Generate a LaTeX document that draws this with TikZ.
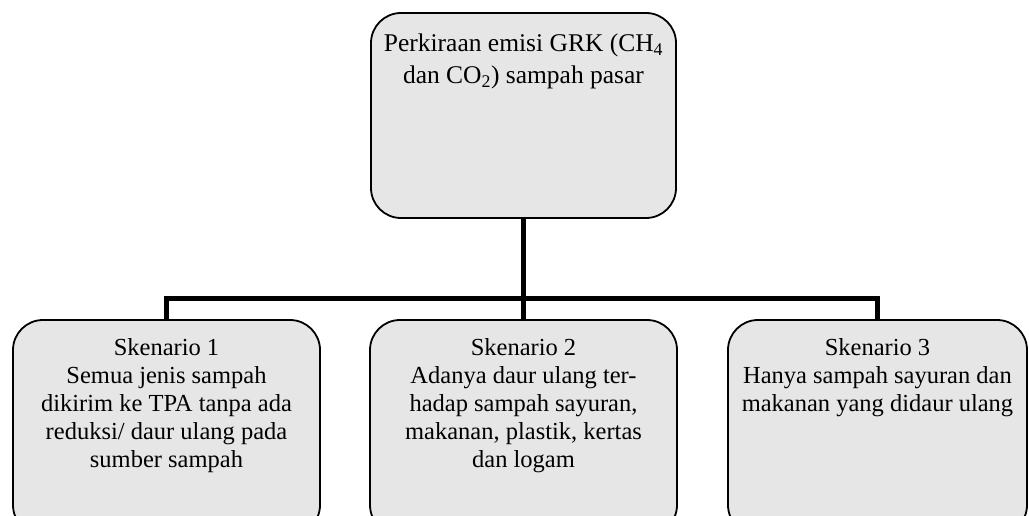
\documentclass[tikz,border=0pt]{standalone}
\usepackage{fontspec}
\setmainfont{Liberation Serif}
\begin{document}
\begin{tikzpicture}[x=1pt,y=-1pt,
  box/.style={draw=black, line width=1.8pt, fill=boxgray, rounded corners=30pt, inner sep=0pt},
  toptxt/.style={align=center, inner sep=0pt, anchor=north, font=\fontsize{25.5}{32}\selectfont},
  bottxt/.style={align=center, inner sep=0pt, anchor=north, font=\fontsize{24.5}{28}\selectfont},
  conn/.style={line width=5pt, line join=miter, line cap=butt}]
\definecolor{boxgray}{HTML}{E6E6E6}
\useasboundingbox (0,0) rectangle (1029,516);
\begin{scope}
\clip (0,0) rectangle (1029,516);
\node[box, minimum width=305pt, minimum height=205pt] (top) at (523.5,115.5) {};
\node[box, minimum width=307pt, minimum height=215pt] (b1) at (166.5,427.5) {};
\node[box, minimum width=307pt, minimum height=215pt] (b2) at (523.5,427.5) {};
\node[box, minimum width=299pt, minimum height=215pt] (b3) at (877.5,427.5) {};
\coordinate (j) at (523.5,298);
\draw[conn] (top.south) -- (j);
\draw[conn] (b1.north) -- (b1.north |- j) -- (b3.north |- j) -- (b3.north);
\draw[conn] (j) -- (b2.north);
\node[toptxt] (toptext) at (523.5,34) {Perkiraan emisi GRK (CH\textsubscript{4}\\dan CO\textsubscript{2}) sampah pasar};
\node[bottxt] (t1) at (166.5,338) {Skenario 1\\Semua jenis sampah\\dikirim ke TPA tanpa ada\\reduksi/ daur ulang pada\\sumber sampah};
\node[bottxt] (t2) at (523.5,338) {Skenario 2\\Adanya daur ulang ter-\\hadap sampah sayuran,\\makanan, plastik, kertas\\dan logam};
\node[bottxt] (t3) at (877.5,338) {Skenario 3\\Hanya sampah sayuran dan\\makanan yang didaur ulang};
\end{scope}
\end{tikzpicture}
\end{document}
